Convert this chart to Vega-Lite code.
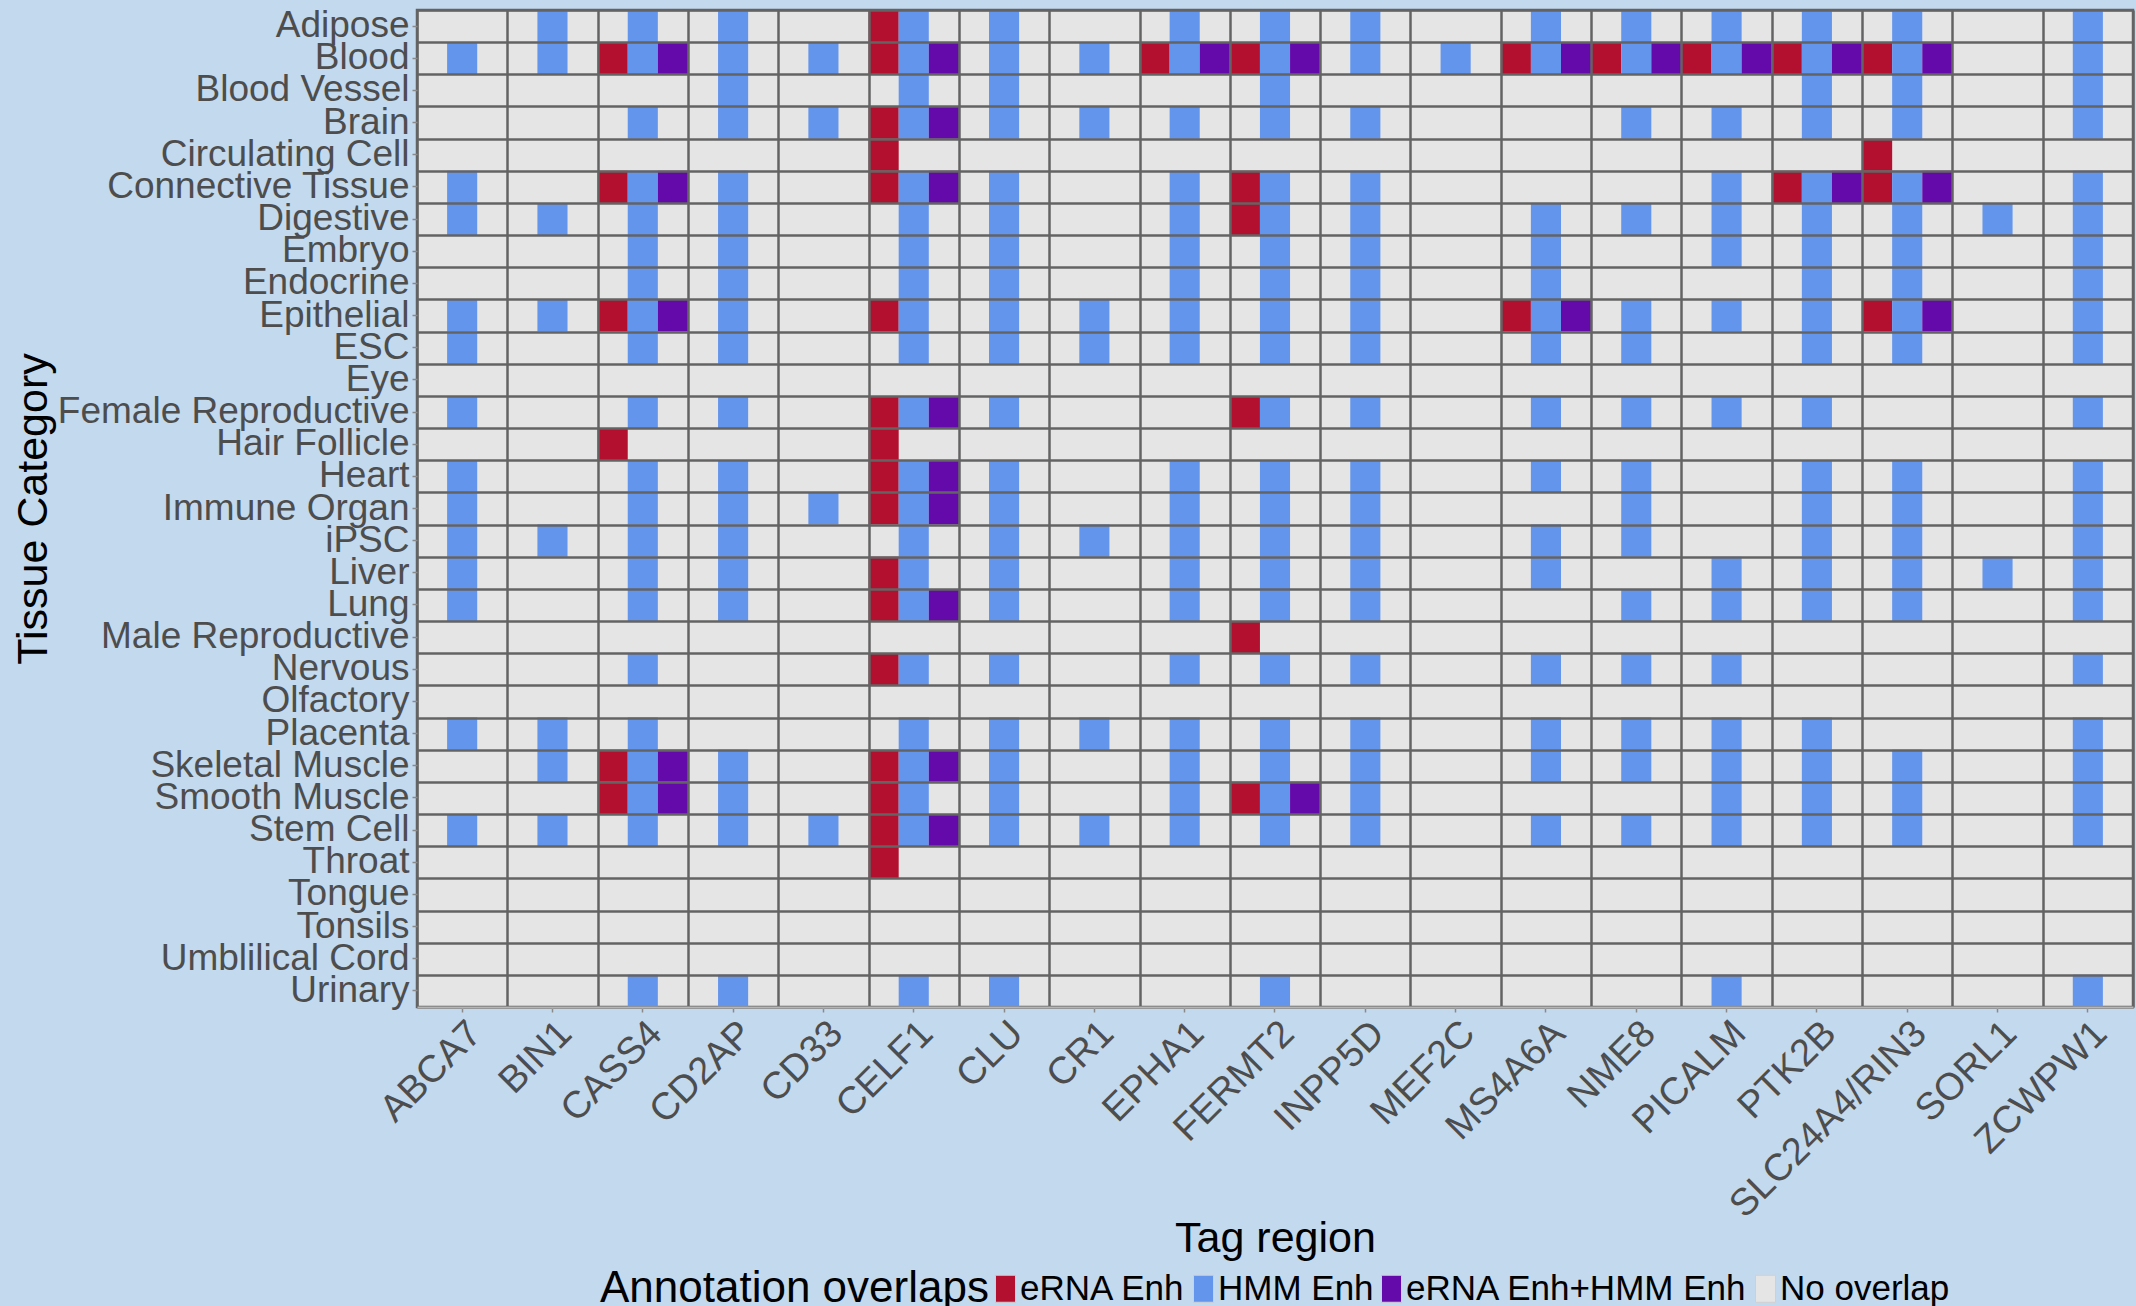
{
  "$schema": "https://vega.github.io/schema/vega-lite/v6.json",
  "width": 1716,
  "height": 997,
  "autosize": {"type": "none"},
  "padding": {"left": 417, "top": 10, "right": 3, "bottom": 299},
  "background": "#C3D9EE",
  "data": {"values": [
    {"t":"Adipose","g":"BIN1","a":["HMM Enh"]},
    {"t":"Adipose","g":"CASS4","a":["HMM Enh"]},
    {"t":"Adipose","g":"CD2AP","a":["HMM Enh"]},
    {"t":"Adipose","g":"CELF1","a":["eRNA Enh","HMM Enh"]},
    {"t":"Adipose","g":"CLU","a":["HMM Enh"]},
    {"t":"Adipose","g":"EPHA1","a":["HMM Enh"]},
    {"t":"Adipose","g":"FERMT2","a":["HMM Enh"]},
    {"t":"Adipose","g":"INPP5D","a":["HMM Enh"]},
    {"t":"Adipose","g":"MS4A6A","a":["HMM Enh"]},
    {"t":"Adipose","g":"NME8","a":["HMM Enh"]},
    {"t":"Adipose","g":"PICALM","a":["HMM Enh"]},
    {"t":"Adipose","g":"PTK2B","a":["HMM Enh"]},
    {"t":"Adipose","g":"SLC24A4/RIN3","a":["HMM Enh"]},
    {"t":"Adipose","g":"ZCWPW1","a":["HMM Enh"]},

    {"t":"Blood","g":"ABCA7","a":["HMM Enh"]},
    {"t":"Blood","g":"BIN1","a":["HMM Enh"]},
    {"t":"Blood","g":"CASS4","a":["eRNA Enh","HMM Enh","eRNA Enh+HMM Enh"]},
    {"t":"Blood","g":"CD2AP","a":["HMM Enh"]},
    {"t":"Blood","g":"CD33","a":["HMM Enh"]},
    {"t":"Blood","g":"CELF1","a":["eRNA Enh","HMM Enh","eRNA Enh+HMM Enh"]},
    {"t":"Blood","g":"CLU","a":["HMM Enh"]},
    {"t":"Blood","g":"CR1","a":["HMM Enh"]},
    {"t":"Blood","g":"EPHA1","a":["eRNA Enh","HMM Enh","eRNA Enh+HMM Enh"]},
    {"t":"Blood","g":"FERMT2","a":["eRNA Enh","HMM Enh","eRNA Enh+HMM Enh"]},
    {"t":"Blood","g":"INPP5D","a":["HMM Enh"]},
    {"t":"Blood","g":"MEF2C","a":["HMM Enh"]},
    {"t":"Blood","g":"MS4A6A","a":["eRNA Enh","HMM Enh","eRNA Enh+HMM Enh"]},
    {"t":"Blood","g":"NME8","a":["eRNA Enh","HMM Enh","eRNA Enh+HMM Enh"]},
    {"t":"Blood","g":"PICALM","a":["eRNA Enh","HMM Enh","eRNA Enh+HMM Enh"]},
    {"t":"Blood","g":"PTK2B","a":["eRNA Enh","HMM Enh","eRNA Enh+HMM Enh"]},
    {"t":"Blood","g":"SLC24A4/RIN3","a":["eRNA Enh","HMM Enh","eRNA Enh+HMM Enh"]},
    {"t":"Blood","g":"ZCWPW1","a":["HMM Enh"]},

    {"t":"Blood Vessel","g":"CD2AP","a":["HMM Enh"]},
    {"t":"Blood Vessel","g":"CELF1","a":["HMM Enh"]},
    {"t":"Blood Vessel","g":"CLU","a":["HMM Enh"]},
    {"t":"Blood Vessel","g":"FERMT2","a":["HMM Enh"]},
    {"t":"Blood Vessel","g":"PTK2B","a":["HMM Enh"]},
    {"t":"Blood Vessel","g":"SLC24A4/RIN3","a":["HMM Enh"]},
    {"t":"Blood Vessel","g":"ZCWPW1","a":["HMM Enh"]},

    {"t":"Brain","g":"CASS4","a":["HMM Enh"]},
    {"t":"Brain","g":"CD2AP","a":["HMM Enh"]},
    {"t":"Brain","g":"CD33","a":["HMM Enh"]},
    {"t":"Brain","g":"CELF1","a":["eRNA Enh","HMM Enh","eRNA Enh+HMM Enh"]},
    {"t":"Brain","g":"CLU","a":["HMM Enh"]},
    {"t":"Brain","g":"CR1","a":["HMM Enh"]},
    {"t":"Brain","g":"EPHA1","a":["HMM Enh"]},
    {"t":"Brain","g":"FERMT2","a":["HMM Enh"]},
    {"t":"Brain","g":"INPP5D","a":["HMM Enh"]},
    {"t":"Brain","g":"NME8","a":["HMM Enh"]},
    {"t":"Brain","g":"PICALM","a":["HMM Enh"]},
    {"t":"Brain","g":"PTK2B","a":["HMM Enh"]},
    {"t":"Brain","g":"SLC24A4/RIN3","a":["HMM Enh"]},
    {"t":"Brain","g":"ZCWPW1","a":["HMM Enh"]},

    {"t":"Circulating Cell","g":"CELF1","a":["eRNA Enh"]},
    {"t":"Circulating Cell","g":"SLC24A4/RIN3","a":["eRNA Enh"]},

    {"t":"Connective Tissue","g":"ABCA7","a":["HMM Enh"]},
    {"t":"Connective Tissue","g":"CASS4","a":["eRNA Enh","HMM Enh","eRNA Enh+HMM Enh"]},
    {"t":"Connective Tissue","g":"CD2AP","a":["HMM Enh"]},
    {"t":"Connective Tissue","g":"CELF1","a":["eRNA Enh","HMM Enh","eRNA Enh+HMM Enh"]},
    {"t":"Connective Tissue","g":"CLU","a":["HMM Enh"]},
    {"t":"Connective Tissue","g":"EPHA1","a":["HMM Enh"]},
    {"t":"Connective Tissue","g":"FERMT2","a":["eRNA Enh","HMM Enh"]},
    {"t":"Connective Tissue","g":"INPP5D","a":["HMM Enh"]},
    {"t":"Connective Tissue","g":"PICALM","a":["HMM Enh"]},
    {"t":"Connective Tissue","g":"PTK2B","a":["eRNA Enh","HMM Enh","eRNA Enh+HMM Enh"]},
    {"t":"Connective Tissue","g":"SLC24A4/RIN3","a":["eRNA Enh","HMM Enh","eRNA Enh+HMM Enh"]},
    {"t":"Connective Tissue","g":"ZCWPW1","a":["HMM Enh"]},

    {"t":"Digestive","g":"ABCA7","a":["HMM Enh"]},
    {"t":"Digestive","g":"BIN1","a":["HMM Enh"]},
    {"t":"Digestive","g":"CASS4","a":["HMM Enh"]},
    {"t":"Digestive","g":"CD2AP","a":["HMM Enh"]},
    {"t":"Digestive","g":"CELF1","a":["HMM Enh"]},
    {"t":"Digestive","g":"CLU","a":["HMM Enh"]},
    {"t":"Digestive","g":"EPHA1","a":["HMM Enh"]},
    {"t":"Digestive","g":"FERMT2","a":["eRNA Enh","HMM Enh"]},
    {"t":"Digestive","g":"INPP5D","a":["HMM Enh"]},
    {"t":"Digestive","g":"MS4A6A","a":["HMM Enh"]},
    {"t":"Digestive","g":"NME8","a":["HMM Enh"]},
    {"t":"Digestive","g":"PICALM","a":["HMM Enh"]},
    {"t":"Digestive","g":"PTK2B","a":["HMM Enh"]},
    {"t":"Digestive","g":"SLC24A4/RIN3","a":["HMM Enh"]},
    {"t":"Digestive","g":"SORL1","a":["HMM Enh"]},
    {"t":"Digestive","g":"ZCWPW1","a":["HMM Enh"]},

    {"t":"Embryo","g":"CASS4","a":["HMM Enh"]},
    {"t":"Embryo","g":"CD2AP","a":["HMM Enh"]},
    {"t":"Embryo","g":"CELF1","a":["HMM Enh"]},
    {"t":"Embryo","g":"CLU","a":["HMM Enh"]},
    {"t":"Embryo","g":"EPHA1","a":["HMM Enh"]},
    {"t":"Embryo","g":"FERMT2","a":["HMM Enh"]},
    {"t":"Embryo","g":"INPP5D","a":["HMM Enh"]},
    {"t":"Embryo","g":"MS4A6A","a":["HMM Enh"]},
    {"t":"Embryo","g":"PICALM","a":["HMM Enh"]},
    {"t":"Embryo","g":"PTK2B","a":["HMM Enh"]},
    {"t":"Embryo","g":"SLC24A4/RIN3","a":["HMM Enh"]},
    {"t":"Embryo","g":"ZCWPW1","a":["HMM Enh"]},

    {"t":"Endocrine","g":"CASS4","a":["HMM Enh"]},
    {"t":"Endocrine","g":"CD2AP","a":["HMM Enh"]},
    {"t":"Endocrine","g":"CELF1","a":["HMM Enh"]},
    {"t":"Endocrine","g":"CLU","a":["HMM Enh"]},
    {"t":"Endocrine","g":"EPHA1","a":["HMM Enh"]},
    {"t":"Endocrine","g":"FERMT2","a":["HMM Enh"]},
    {"t":"Endocrine","g":"INPP5D","a":["HMM Enh"]},
    {"t":"Endocrine","g":"MS4A6A","a":["HMM Enh"]},
    {"t":"Endocrine","g":"PTK2B","a":["HMM Enh"]},
    {"t":"Endocrine","g":"SLC24A4/RIN3","a":["HMM Enh"]},
    {"t":"Endocrine","g":"ZCWPW1","a":["HMM Enh"]},

    {"t":"Epithelial","g":"ABCA7","a":["HMM Enh"]},
    {"t":"Epithelial","g":"BIN1","a":["HMM Enh"]},
    {"t":"Epithelial","g":"CASS4","a":["eRNA Enh","HMM Enh","eRNA Enh+HMM Enh"]},
    {"t":"Epithelial","g":"CD2AP","a":["HMM Enh"]},
    {"t":"Epithelial","g":"CELF1","a":["eRNA Enh","HMM Enh"]},
    {"t":"Epithelial","g":"CLU","a":["HMM Enh"]},
    {"t":"Epithelial","g":"CR1","a":["HMM Enh"]},
    {"t":"Epithelial","g":"EPHA1","a":["HMM Enh"]},
    {"t":"Epithelial","g":"FERMT2","a":["HMM Enh"]},
    {"t":"Epithelial","g":"INPP5D","a":["HMM Enh"]},
    {"t":"Epithelial","g":"MS4A6A","a":["eRNA Enh","HMM Enh","eRNA Enh+HMM Enh"]},
    {"t":"Epithelial","g":"NME8","a":["HMM Enh"]},
    {"t":"Epithelial","g":"PICALM","a":["HMM Enh"]},
    {"t":"Epithelial","g":"PTK2B","a":["HMM Enh"]},
    {"t":"Epithelial","g":"SLC24A4/RIN3","a":["eRNA Enh","HMM Enh","eRNA Enh+HMM Enh"]},
    {"t":"Epithelial","g":"ZCWPW1","a":["HMM Enh"]},

    {"t":"ESC","g":"ABCA7","a":["HMM Enh"]},
    {"t":"ESC","g":"CASS4","a":["HMM Enh"]},
    {"t":"ESC","g":"CD2AP","a":["HMM Enh"]},
    {"t":"ESC","g":"CELF1","a":["HMM Enh"]},
    {"t":"ESC","g":"CLU","a":["HMM Enh"]},
    {"t":"ESC","g":"CR1","a":["HMM Enh"]},
    {"t":"ESC","g":"EPHA1","a":["HMM Enh"]},
    {"t":"ESC","g":"FERMT2","a":["HMM Enh"]},
    {"t":"ESC","g":"INPP5D","a":["HMM Enh"]},
    {"t":"ESC","g":"MS4A6A","a":["HMM Enh"]},
    {"t":"ESC","g":"NME8","a":["HMM Enh"]},
    {"t":"ESC","g":"PTK2B","a":["HMM Enh"]},
    {"t":"ESC","g":"SLC24A4/RIN3","a":["HMM Enh"]},
    {"t":"ESC","g":"ZCWPW1","a":["HMM Enh"]},

    {"t":"Female Reproductive","g":"ABCA7","a":["HMM Enh"]},
    {"t":"Female Reproductive","g":"CASS4","a":["HMM Enh"]},
    {"t":"Female Reproductive","g":"CD2AP","a":["HMM Enh"]},
    {"t":"Female Reproductive","g":"CELF1","a":["eRNA Enh","HMM Enh","eRNA Enh+HMM Enh"]},
    {"t":"Female Reproductive","g":"CLU","a":["HMM Enh"]},
    {"t":"Female Reproductive","g":"FERMT2","a":["eRNA Enh","HMM Enh"]},
    {"t":"Female Reproductive","g":"INPP5D","a":["HMM Enh"]},
    {"t":"Female Reproductive","g":"MS4A6A","a":["HMM Enh"]},
    {"t":"Female Reproductive","g":"NME8","a":["HMM Enh"]},
    {"t":"Female Reproductive","g":"PICALM","a":["HMM Enh"]},
    {"t":"Female Reproductive","g":"PTK2B","a":["HMM Enh"]},
    {"t":"Female Reproductive","g":"ZCWPW1","a":["HMM Enh"]},

    {"t":"Hair Follicle","g":"CASS4","a":["eRNA Enh"]},
    {"t":"Hair Follicle","g":"CELF1","a":["eRNA Enh"]},

    {"t":"Heart","g":"ABCA7","a":["HMM Enh"]},
    {"t":"Heart","g":"CASS4","a":["HMM Enh"]},
    {"t":"Heart","g":"CD2AP","a":["HMM Enh"]},
    {"t":"Heart","g":"CELF1","a":["eRNA Enh","HMM Enh","eRNA Enh+HMM Enh"]},
    {"t":"Heart","g":"CLU","a":["HMM Enh"]},
    {"t":"Heart","g":"EPHA1","a":["HMM Enh"]},
    {"t":"Heart","g":"FERMT2","a":["HMM Enh"]},
    {"t":"Heart","g":"INPP5D","a":["HMM Enh"]},
    {"t":"Heart","g":"MS4A6A","a":["HMM Enh"]},
    {"t":"Heart","g":"NME8","a":["HMM Enh"]},
    {"t":"Heart","g":"PTK2B","a":["HMM Enh"]},
    {"t":"Heart","g":"SLC24A4/RIN3","a":["HMM Enh"]},
    {"t":"Heart","g":"ZCWPW1","a":["HMM Enh"]},

    {"t":"Immune Organ","g":"ABCA7","a":["HMM Enh"]},
    {"t":"Immune Organ","g":"CASS4","a":["HMM Enh"]},
    {"t":"Immune Organ","g":"CD2AP","a":["HMM Enh"]},
    {"t":"Immune Organ","g":"CD33","a":["HMM Enh"]},
    {"t":"Immune Organ","g":"CELF1","a":["eRNA Enh","HMM Enh","eRNA Enh+HMM Enh"]},
    {"t":"Immune Organ","g":"CLU","a":["HMM Enh"]},
    {"t":"Immune Organ","g":"EPHA1","a":["HMM Enh"]},
    {"t":"Immune Organ","g":"FERMT2","a":["HMM Enh"]},
    {"t":"Immune Organ","g":"INPP5D","a":["HMM Enh"]},
    {"t":"Immune Organ","g":"NME8","a":["HMM Enh"]},
    {"t":"Immune Organ","g":"PTK2B","a":["HMM Enh"]},
    {"t":"Immune Organ","g":"SLC24A4/RIN3","a":["HMM Enh"]},
    {"t":"Immune Organ","g":"ZCWPW1","a":["HMM Enh"]},

    {"t":"iPSC","g":"ABCA7","a":["HMM Enh"]},
    {"t":"iPSC","g":"BIN1","a":["HMM Enh"]},
    {"t":"iPSC","g":"CASS4","a":["HMM Enh"]},
    {"t":"iPSC","g":"CD2AP","a":["HMM Enh"]},
    {"t":"iPSC","g":"CELF1","a":["HMM Enh"]},
    {"t":"iPSC","g":"CLU","a":["HMM Enh"]},
    {"t":"iPSC","g":"CR1","a":["HMM Enh"]},
    {"t":"iPSC","g":"EPHA1","a":["HMM Enh"]},
    {"t":"iPSC","g":"FERMT2","a":["HMM Enh"]},
    {"t":"iPSC","g":"INPP5D","a":["HMM Enh"]},
    {"t":"iPSC","g":"MS4A6A","a":["HMM Enh"]},
    {"t":"iPSC","g":"NME8","a":["HMM Enh"]},
    {"t":"iPSC","g":"PTK2B","a":["HMM Enh"]},
    {"t":"iPSC","g":"SLC24A4/RIN3","a":["HMM Enh"]},
    {"t":"iPSC","g":"ZCWPW1","a":["HMM Enh"]},

    {"t":"Liver","g":"ABCA7","a":["HMM Enh"]},
    {"t":"Liver","g":"CASS4","a":["HMM Enh"]},
    {"t":"Liver","g":"CD2AP","a":["HMM Enh"]},
    {"t":"Liver","g":"CELF1","a":["eRNA Enh","HMM Enh"]},
    {"t":"Liver","g":"CLU","a":["HMM Enh"]},
    {"t":"Liver","g":"EPHA1","a":["HMM Enh"]},
    {"t":"Liver","g":"FERMT2","a":["HMM Enh"]},
    {"t":"Liver","g":"INPP5D","a":["HMM Enh"]},
    {"t":"Liver","g":"MS4A6A","a":["HMM Enh"]},
    {"t":"Liver","g":"PICALM","a":["HMM Enh"]},
    {"t":"Liver","g":"PTK2B","a":["HMM Enh"]},
    {"t":"Liver","g":"SLC24A4/RIN3","a":["HMM Enh"]},
    {"t":"Liver","g":"SORL1","a":["HMM Enh"]},
    {"t":"Liver","g":"ZCWPW1","a":["HMM Enh"]},

    {"t":"Lung","g":"ABCA7","a":["HMM Enh"]},
    {"t":"Lung","g":"CASS4","a":["HMM Enh"]},
    {"t":"Lung","g":"CD2AP","a":["HMM Enh"]},
    {"t":"Lung","g":"CELF1","a":["eRNA Enh","HMM Enh","eRNA Enh+HMM Enh"]},
    {"t":"Lung","g":"CLU","a":["HMM Enh"]},
    {"t":"Lung","g":"EPHA1","a":["HMM Enh"]},
    {"t":"Lung","g":"FERMT2","a":["HMM Enh"]},
    {"t":"Lung","g":"INPP5D","a":["HMM Enh"]},
    {"t":"Lung","g":"NME8","a":["HMM Enh"]},
    {"t":"Lung","g":"PICALM","a":["HMM Enh"]},
    {"t":"Lung","g":"PTK2B","a":["HMM Enh"]},
    {"t":"Lung","g":"SLC24A4/RIN3","a":["HMM Enh"]},
    {"t":"Lung","g":"ZCWPW1","a":["HMM Enh"]},

    {"t":"Male Reproductive","g":"FERMT2","a":["eRNA Enh"]},

    {"t":"Nervous","g":"CASS4","a":["HMM Enh"]},
    {"t":"Nervous","g":"CELF1","a":["eRNA Enh","HMM Enh"]},
    {"t":"Nervous","g":"CLU","a":["HMM Enh"]},
    {"t":"Nervous","g":"EPHA1","a":["HMM Enh"]},
    {"t":"Nervous","g":"FERMT2","a":["HMM Enh"]},
    {"t":"Nervous","g":"INPP5D","a":["HMM Enh"]},
    {"t":"Nervous","g":"MS4A6A","a":["HMM Enh"]},
    {"t":"Nervous","g":"NME8","a":["HMM Enh"]},
    {"t":"Nervous","g":"PICALM","a":["HMM Enh"]},
    {"t":"Nervous","g":"ZCWPW1","a":["HMM Enh"]},

    {"t":"Placenta","g":"ABCA7","a":["HMM Enh"]},
    {"t":"Placenta","g":"BIN1","a":["HMM Enh"]},
    {"t":"Placenta","g":"CASS4","a":["HMM Enh"]},
    {"t":"Placenta","g":"CELF1","a":["HMM Enh"]},
    {"t":"Placenta","g":"CLU","a":["HMM Enh"]},
    {"t":"Placenta","g":"CR1","a":["HMM Enh"]},
    {"t":"Placenta","g":"EPHA1","a":["HMM Enh"]},
    {"t":"Placenta","g":"FERMT2","a":["HMM Enh"]},
    {"t":"Placenta","g":"INPP5D","a":["HMM Enh"]},
    {"t":"Placenta","g":"MS4A6A","a":["HMM Enh"]},
    {"t":"Placenta","g":"NME8","a":["HMM Enh"]},
    {"t":"Placenta","g":"PICALM","a":["HMM Enh"]},
    {"t":"Placenta","g":"PTK2B","a":["HMM Enh"]},
    {"t":"Placenta","g":"ZCWPW1","a":["HMM Enh"]},

    {"t":"Skeletal Muscle","g":"BIN1","a":["HMM Enh"]},
    {"t":"Skeletal Muscle","g":"CASS4","a":["eRNA Enh","HMM Enh","eRNA Enh+HMM Enh"]},
    {"t":"Skeletal Muscle","g":"CD2AP","a":["HMM Enh"]},
    {"t":"Skeletal Muscle","g":"CELF1","a":["eRNA Enh","HMM Enh","eRNA Enh+HMM Enh"]},
    {"t":"Skeletal Muscle","g":"CLU","a":["HMM Enh"]},
    {"t":"Skeletal Muscle","g":"EPHA1","a":["HMM Enh"]},
    {"t":"Skeletal Muscle","g":"FERMT2","a":["HMM Enh"]},
    {"t":"Skeletal Muscle","g":"INPP5D","a":["HMM Enh"]},
    {"t":"Skeletal Muscle","g":"MS4A6A","a":["HMM Enh"]},
    {"t":"Skeletal Muscle","g":"NME8","a":["HMM Enh"]},
    {"t":"Skeletal Muscle","g":"PICALM","a":["HMM Enh"]},
    {"t":"Skeletal Muscle","g":"PTK2B","a":["HMM Enh"]},
    {"t":"Skeletal Muscle","g":"SLC24A4/RIN3","a":["HMM Enh"]},
    {"t":"Skeletal Muscle","g":"ZCWPW1","a":["HMM Enh"]},

    {"t":"Smooth Muscle","g":"CASS4","a":["eRNA Enh","HMM Enh","eRNA Enh+HMM Enh"]},
    {"t":"Smooth Muscle","g":"CD2AP","a":["HMM Enh"]},
    {"t":"Smooth Muscle","g":"CELF1","a":["eRNA Enh","HMM Enh"]},
    {"t":"Smooth Muscle","g":"CLU","a":["HMM Enh"]},
    {"t":"Smooth Muscle","g":"EPHA1","a":["HMM Enh"]},
    {"t":"Smooth Muscle","g":"FERMT2","a":["eRNA Enh","HMM Enh","eRNA Enh+HMM Enh"]},
    {"t":"Smooth Muscle","g":"INPP5D","a":["HMM Enh"]},
    {"t":"Smooth Muscle","g":"PICALM","a":["HMM Enh"]},
    {"t":"Smooth Muscle","g":"PTK2B","a":["HMM Enh"]},
    {"t":"Smooth Muscle","g":"SLC24A4/RIN3","a":["HMM Enh"]},
    {"t":"Smooth Muscle","g":"ZCWPW1","a":["HMM Enh"]},

    {"t":"Stem Cell","g":"ABCA7","a":["HMM Enh"]},
    {"t":"Stem Cell","g":"BIN1","a":["HMM Enh"]},
    {"t":"Stem Cell","g":"CASS4","a":["HMM Enh"]},
    {"t":"Stem Cell","g":"CD2AP","a":["HMM Enh"]},
    {"t":"Stem Cell","g":"CD33","a":["HMM Enh"]},
    {"t":"Stem Cell","g":"CELF1","a":["eRNA Enh","HMM Enh","eRNA Enh+HMM Enh"]},
    {"t":"Stem Cell","g":"CLU","a":["HMM Enh"]},
    {"t":"Stem Cell","g":"CR1","a":["HMM Enh"]},
    {"t":"Stem Cell","g":"EPHA1","a":["HMM Enh"]},
    {"t":"Stem Cell","g":"FERMT2","a":["HMM Enh"]},
    {"t":"Stem Cell","g":"INPP5D","a":["HMM Enh"]},
    {"t":"Stem Cell","g":"MS4A6A","a":["HMM Enh"]},
    {"t":"Stem Cell","g":"NME8","a":["HMM Enh"]},
    {"t":"Stem Cell","g":"PICALM","a":["HMM Enh"]},
    {"t":"Stem Cell","g":"PTK2B","a":["HMM Enh"]},
    {"t":"Stem Cell","g":"SLC24A4/RIN3","a":["HMM Enh"]},
    {"t":"Stem Cell","g":"ZCWPW1","a":["HMM Enh"]},

    {"t":"Throat","g":"CELF1","a":["eRNA Enh"]},

    {"t":"Urinary","g":"CASS4","a":["HMM Enh"]},
    {"t":"Urinary","g":"CD2AP","a":["HMM Enh"]},
    {"t":"Urinary","g":"CELF1","a":["HMM Enh"]},
    {"t":"Urinary","g":"CLU","a":["HMM Enh"]},
    {"t":"Urinary","g":"FERMT2","a":["HMM Enh"]},
    {"t":"Urinary","g":"PICALM","a":["HMM Enh"]},
    {"t":"Urinary","g":"ZCWPW1","a":["HMM Enh"]}
  ]},
  "transform": [{"flatten": ["a"]}],
  "layer": [
    {
      "mark": {"type": "rect"},
      "encoding": {
        "x": {
          "field": "g", "type": "nominal",
          "scale": {"domain": ["ABCA7","BIN1","CASS4","CD2AP","CD33","CELF1","CLU","CR1","EPHA1","FERMT2","INPP5D","MEF2C","MS4A6A","NME8","PICALM","PTK2B","SLC24A4/RIN3","SORL1","ZCWPW1"], "paddingInner": 0, "paddingOuter": 0},
          "axis": {
            "title": "Tag region", "titleFontSize": 43, "titleColor": "#000000", "titleFontWeight": "normal", "titleFont": "Liberation Sans", "titlePadding": -7,
            "labelAngle": -45, "labelAlign": "right", "labelBaseline": "top", "labelFontSize": 38, "labelColor": "#4D4D4D", "labelFont": "Liberation Sans", "labelPadding": 2, "labelLimit": 600, "labelOverlap": false,
            "grid": false, "ticks": true, "tickSize": 5, "tickColor": "#8A8A8A", "tickWidth": 1.5,
            "domain": true, "domainColor": "#B5B5B5", "domainWidth": 2, "maxExtent": 600
          }
        },
        "xOffset": {
          "field": "a", "type": "nominal",
          "scale": {"domain": ["eRNA Enh","HMM Enh","eRNA Enh+HMM Enh"], "paddingInner": 0, "paddingOuter": 0}
        },
        "y": {
          "field": "t", "type": "nominal",
          "scale": {"domain": ["Adipose","Blood","Blood Vessel","Brain","Circulating Cell","Connective Tissue","Digestive","Embryo","Endocrine","Epithelial","ESC","Eye","Female Reproductive","Hair Follicle","Heart","Immune Organ","iPSC","Liver","Lung","Male Reproductive","Nervous","Olfactory","Placenta","Skeletal Muscle","Smooth Muscle","Stem Cell","Throat","Tongue","Tonsils","Umblilical Cord","Urinary"], "paddingInner": 0, "paddingOuter": 0},
          "axis": {
            "title": "Tissue Category", "titleFontSize": 43, "titleColor": "#000000", "titleFontWeight": "normal", "titleFont": "Liberation Sans", "titlePadding": 2,
            "labelFontSize": 37, "labelColor": "#4D4D4D", "labelFont": "Liberation Sans", "labelPadding": 3, "labelLimit": 600, "labelOverlap": false,
            "grid": false, "ticks": true, "tickSize": 5, "tickColor": "#8A8A8A", "tickWidth": 1.5,
            "domain": false, "maxExtent": 600
          }
        },
        "color": {
          "field": "a", "type": "nominal",
          "scale": {"domain": ["eRNA Enh","HMM Enh","eRNA Enh+HMM Enh","No overlap"], "range": ["#B2102E","#6495ED","#640AAA","#E5E5E5"]},
          "legend": {
            "title": "Annotation overlaps", "orient": "bottom", "direction": "horizontal", "titleOrient": "left",
            "titleFontSize": 44, "titleColor": "#000000", "titleFontWeight": "normal", "titleFont": "Liberation Sans", "titlePadding": -1, "titleLimit": 800,
            "labelFontSize": 35, "labelColor": "#000000", "labelFont": "Liberation Sans", "labelOffset": -3, "labelLimit": 600,
            "symbolType": "M-1,-1.35H1V1.35H-1Z", "symbolSize": 400, "symbolStrokeWidth": 1, "symbolStrokeColor": "#D0D0D0", "symbolOpacity": 1,
            "columnPadding": -3, "offset": 10
          }
        }
      }
    },
    {
      "mark": {"type": "rect", "opacity": 0},
      "encoding": {
        "x": {
          "field": "g", "type": "nominal",
          "scale": {"domain": ["ABCA7","BIN1","CASS4","CD2AP","CD33","CELF1","CLU","CR1","EPHA1","FERMT2","INPP5D","MEF2C","MS4A6A","NME8","PICALM","PTK2B","SLC24A4/RIN3","SORL1","ZCWPW1"], "paddingInner": 0, "paddingOuter": 0},
          "axis": {"orient": "top", "title": null, "labels": false, "ticks": false, "domain": false, "grid": true, "tickBand": "extent", "gridColor": "#636363", "gridWidth": 2.5, "gridOpacity": 1, "zindex": 1}
        },
        "y": {
          "field": "t", "type": "nominal",
          "scale": {"domain": ["Adipose","Blood","Blood Vessel","Brain","Circulating Cell","Connective Tissue","Digestive","Embryo","Endocrine","Epithelial","ESC","Eye","Female Reproductive","Hair Follicle","Heart","Immune Organ","iPSC","Liver","Lung","Male Reproductive","Nervous","Olfactory","Placenta","Skeletal Muscle","Smooth Muscle","Stem Cell","Throat","Tongue","Tonsils","Umblilical Cord","Urinary"], "paddingInner": 0, "paddingOuter": 0},
          "axis": {"orient": "right", "title": null, "labels": false, "ticks": false, "domain": false, "grid": true, "tickBand": "extent", "gridColor": "#636363", "gridWidth": 2.5, "gridOpacity": 1, "zindex": 1}
        }
      }
    }
  ],
  "resolve": {"axis": {"x": "independent", "y": "independent"}},
  "config": {
    "view": {"fill": "#E5E5E5", "stroke": "#636363", "strokeWidth": 2.5},
    "legend": {"layout": {"bottom": {"anchor": "middle"}}}
  }
}
